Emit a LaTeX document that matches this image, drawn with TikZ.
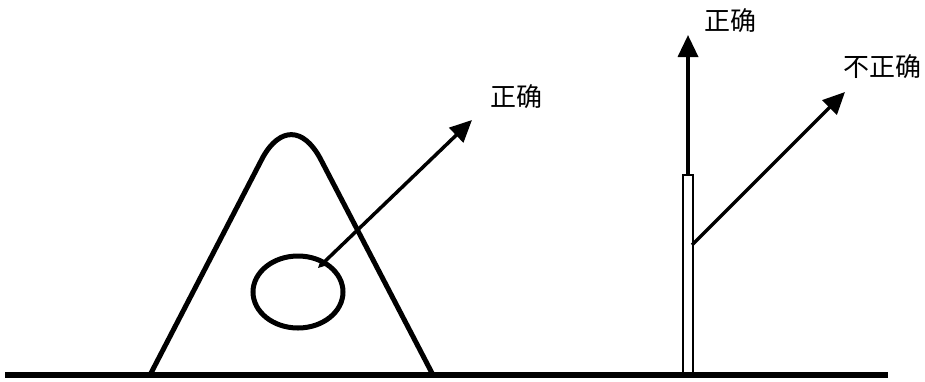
\documentclass[tikz,border=0pt]{standalone}
\usepackage{fontspec}
\newfontfamily\cjk{Noto Sans CJK SC}
\usetikzlibrary{arrows.meta, shapes.geometric}
\tikzset{
	ray/.style={line width=3.5pt, -{Triangle[length=22pt,width=20pt]}},
	lbl/.style={font=\cjk\fontsize{26}{26}\selectfont, inner sep=0pt},
}
\begin{document}
\begin{tikzpicture}[x=1pt, y=-1pt]
	\useasboundingbox (0,0) rectangle (925,381);

	% ground
	\draw[line width=6pt] (5,375) -- (888,375);

	% hill with a ring inside
	\draw[line width=5pt, line join=round] (150,375) -- (263,157)
		.. controls (280,127) and (303,127) .. (320,158) -- (433,375);
	\node[draw, line width=5pt, ellipse, minimum width=90pt, minimum height=72pt, inner sep=0pt] (ring) at (298,292) {};
		\coordinate (ring-tip) at (318,268);
		\coordinate (hill-tip) at (472,120);
		\draw[ray, {Stealth[length=8pt,width=8pt]}-{Triangle[length=22pt,width=20pt]}] (ring-tip) -- (hill-tip);
		\node[lbl] (hill-ok) at (516,97) {正确};

	% pole
	\draw[line width=2.5pt] (683,175) rectangle (693,375);
		\coordinate (pole-top) at (688,175);
		\coordinate (up-tip) at (688,35);
		\draw[ray] (pole-top) -- (up-tip);
		\node[lbl] (up-ok) at (730,21) {正确};
		\coordinate (pole-side) at (692,245);
		\coordinate (side-tip) at (845,92);
		\draw[ray] (pole-side) -- (side-tip);
		\node[lbl] (side-bad) at (882,67) {不正确};
\end{tikzpicture}
\end{document}
